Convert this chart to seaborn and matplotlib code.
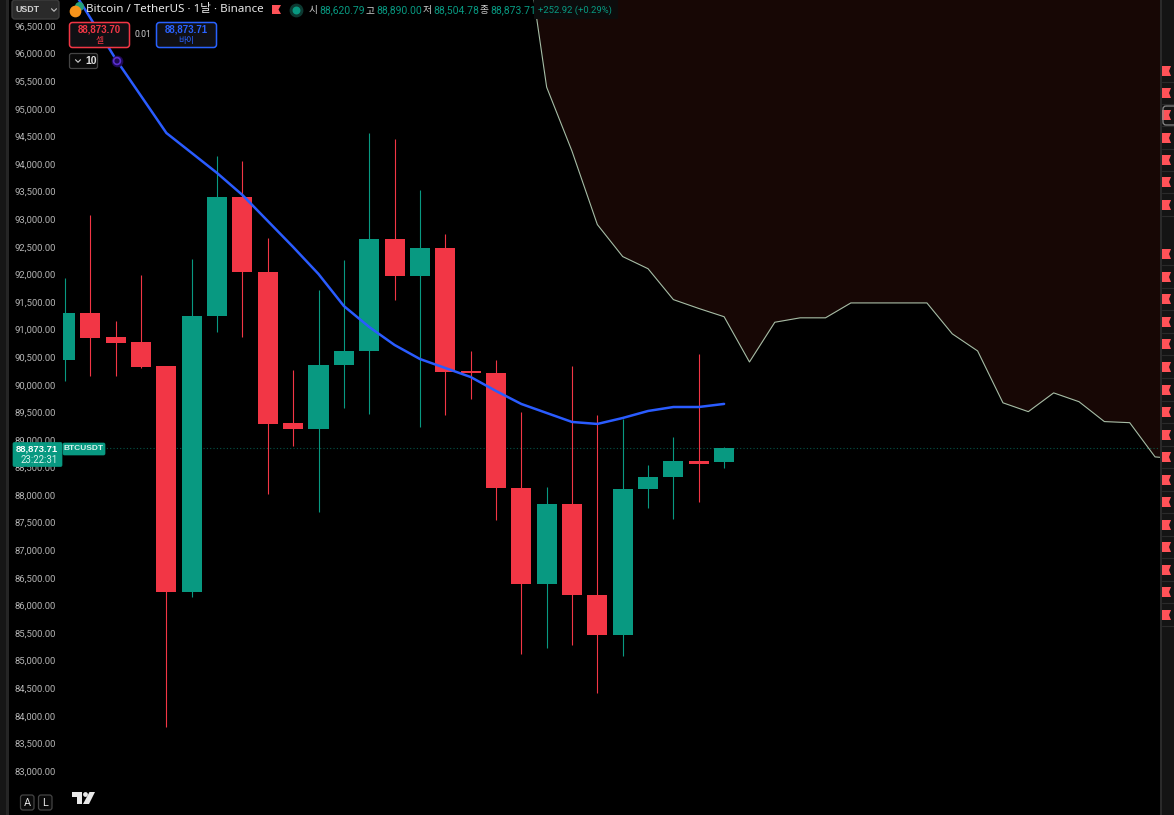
import matplotlib
matplotlib.use("Agg")
import matplotlib.pyplot as plt
from matplotlib.patches import FancyBboxPatch, Rectangle, Polygon, Circle
from matplotlib.transforms import ScaledTranslation
import numpy as np
import pandas as pd
import seaborn as sns

opens = [90466,91318,90883,90792,90357,86262,91263,93420,92061,89324,89216,90375,90629,92659,91988,92495,90268,90230,88147,86407,87857,86208,85483,88129,88346,88636,88620.79]
highs = [91952,93093,91173,92006,90357,92296,94163,94072,92677,90285,91734,92278,94579,94471,93546,92749,90629,90466,89524,88165,90357,89469,89397,88563,89071,90575,88890]
lows = [90085,90176,90176,90320,83816,86172,90973,90883,88038,88908,87712,89596,89488,91553,89252,89469,89759,87567,85139,85247,85302,84432,85103,87784,87585,87893,88504.78]
closes = [91318,90865,90774,90339,86262,91263,93420,92061,89306,89216,90375,90629,92659,91988,92495,90249,90230,88147,86407,87857,86208,85483,88129,88346,88636,88582,88873.71]

ma_index = list(range(0, 27))
ma_values = [97400,96663,95920,95250,94579,94217,93854,93455,92984,92513,92024,91444,91064,90738,90484,90321,90158,89905,89669,89506,89343,89307,89415,89542,89614,89614,89670]

cloud_index = list(range(18, 44))
cloud_values = [98580,95410,94250,92920,92340,92120,91560,91400,91250,90430,91150,91230,91230,91500,91500,91500,91500,90940,90630,89690,89530,89870,89710,89350,89330,88710]
cloud_end = 88700

price_ticks = list(range(83000, 97000, 500))
C_UP, C_DOWN = "#089981", "#f23645"

sns.set_theme(style="dark")
W, H = 1174, 815
plt.rcParams["font.family"] = ["Noto Sans", "Noto Sans CJK KR", "DejaVu Sans"]
fig = plt.figure(figsize=(W/100, H/100), dpi=100, facecolor="black")
L, R = 63, 1161
ax = fig.add_axes([L/W, 0, (R-L)/W, 1], facecolor="black")
STEP = 25.35
ax.set_xlim((L-65)/STEP, (R-65)/STEP)
PPU = 745/13500
ax.set_ylim(96500-(815-27)/PPU, 96500+27/PPU)
for s in ax.spines.values():
    s.set_visible(False)
ax.grid(False)
ax.set_xticks([])
ax.set_yticks(price_ticks)
ax.set_yticklabels([f"{p:,.2f}" for p in price_ticks], fontsize=6.8, color="#b4b4b4", family="Roboto")
ax.tick_params(axis="y", length=0, pad=5)
up1 = ScaledTranslation(0, 1/100, fig.dpi_scale_trans)
for lab in ax.get_yticklabels():
    lab.set_transform(lab.get_transform() + up1)

# cloud
cx = cloud_index + [43.25]
cy = cloud_values + [cloud_end]
ax.fill_between(cx, cy, 99000, color="#170705", lw=0, zorder=1)
df_c = pd.DataFrame({"i": cx, "v": cy})
sns.lineplot(data=df_c, x="i", y="v", ax=ax, color="#a6bda6", lw=0.8, zorder=2, estimator=None, sort=False)

# candles
idx = np.arange(len(opens))
o, h, l, c = map(np.array, (opens, highs, lows, closes))
cols = [C_UP if b >= a else C_DOWN for a, b in zip(o, c)]
ax.vlines(idx, l, h, colors=cols, lw=0.8, zorder=3)
ax.bar(idx, np.maximum(np.abs(c-o), 30), bottom=np.minimum(o, c), width=0.79, color=cols, lw=0, zorder=4)

# moving average
df_m = pd.DataFrame({"i": ma_index, "v": ma_values})
sns.lineplot(data=df_m, x="i", y="v", ax=ax, color="#2a5cff", lw=1.8, zorder=5, estimator=None)
ax.set_xlabel(""); ax.set_ylabel("")
leg = ax.get_legend()
if leg: leg.remove()

# last price line
ax.axhline(closes[-1], color=C_UP, lw=0.8, ls=(0, (1, 2)), alpha=0.55, zorder=2)

# overlay in pixel space for the interface furniture
ov = fig.add_axes([0, 0, 1, 1], facecolor="none")
ov.set_xlim(0, W); ov.set_ylim(H, 0); ov.axis("off")
ov.add_patch(Rectangle((0, 0), 6, H, color="#161616", lw=0))
ov.add_patch(Rectangle((6, 0), 3, H, color="#262626", lw=0))
ov.add_patch(Rectangle((1161, 0), 13, H, color="#141414", lw=0))
ov.add_patch(Rectangle((1160, 0), 2, H, color="#2a2a2a", lw=0))

def flag(x, y, w=9, hh=10, n=2):
    ov.add_patch(Polygon([(x, y), (x+w, y), (x+w-n, y+hh/2), (x+w, y+hh), (x, y+hh)], color="#ff5258", lw=0))

for y in [71, 93, 115, 138, 160, 182, 205, 254, 277, 299, 322, 344, 367, 390, 412, 435, 457, 480, 502, 525, 547, 570, 592, 615]:
    flag(1162, y-5)
    ov.plot([1162, 1174], [y+11, y+11], color="#2a2a2a", lw=0.8)
ov.add_patch(FancyBboxPatch((1163, 106), 14, 19, boxstyle="round,pad=0,rounding_size=3", fc="none", ec="#8a8a8a", lw=0.9))

def box(x, y, w, hh, fc, ec, lw=1.0, r=3):
    ov.add_patch(FancyBboxPatch((x, y), w, hh, boxstyle=f"round,pad=0,rounding_size={r}", fc=fc, ec=ec, lw=lw))

def T(x, y, s, color="#d8d8d8", size=8, ha="left", weight="normal", family=None):
    ov.text(x, y, s, color=color, fontsize=size, ha=ha, va="center", fontweight=weight,
            family=family or ["Noto Sans", "Noto Sans CJK KR", "DejaVu Sans"])

def chevron(x, y, color="#c0c0c0", s=2.5):
    ov.plot([x-s, x, x+s], [y-s/2, y+s/2, y-s/2], color=color, lw=0.8)

# top left: currency selector
box(12, 0, 47, 19, "#2a2a2a", "#3c3c3c")
T(15, 10, "USDT", "#d0d0d0", 6.4, family="Liberation Sans", weight="bold")
chevron(54, 10)

# title row
ov.scatter([79], [6], s=30, color="#26a17b", zorder=5)
ov.scatter([75], [11], s=55, color="#f7931a", zorder=5)
T(86, 9.5, "Bitcoin / TetherUS · 1날 · Binance", "#e8e8e8", 8.35)
flag(272, 5, 9, 9, 2.5)
ov.scatter([296], [10], s=80, color="#0d3a32", zorder=5)
ov.scatter([296], [10], s=22, color="#089981", zorder=6)
xs = [(309, "시", "88,620.79"), (366, "고", "88,890.00"), (423, "저", "88,504.78"), (480, "종", "88,873.71")]
ov.add_patch(Rectangle((534, 0), 84, 19, color="#0c0c0c", lw=0, zorder=1))
for x, k, v in xs:
    T(x, 10, k, "#d0d0d0", 7.0, family=["Noto Sans CJK KR"])
    T(x+10, 10, v, "#089981", 7.5, family="Roboto")
T(538, 10.5, "+252.92 (+0.29%)", "#089981", 6.8, family="Roboto")

# order buttons
box(69.5, 22.5, 60, 25, "#101014", "#f23645", 1.1)
T(99.5, 30, "88,873.70", "#f23645", 7.0, ha="center", weight="bold", family="Liberation Sans")
T(99.5, 40, "셀", "#f23645", 6.3, ha="center", family=["Noto Sans CJK KR"])
T(143, 34.5, "0.01", "#d0d0d0", 6.2, ha="center", family="Roboto")
box(156.5, 22.5, 60, 25, "#101014", "#2962ff", 1.1)
T(186.5, 30, "88,873.71", "#2962ff", 7.0, ha="center", weight="bold", family="Liberation Sans")
T(186.5, 40, "바이", "#2962ff", 6.3, ha="center", family=["Noto Sans CJK KR"])
box(69.5, 53.5, 28, 15, "#0a0a0a", "#444444", 0.9, 2)
chevron(78, 61, "#d0d0d0")
T(85, 61, "10", "#e0e0e0", 7.5, family="Liberation Sans", weight="bold")
ov.scatter([117], [61], s=70, color="#1f0a55", lw=0, zorder=5)
ov.scatter([117], [61], s=24, facecolors="none", edgecolors="#5a2fd0", lw=1.2, zorder=6)

# last price labels
box(13, 442.5, 49, 24, C_UP, C_UP, 0.5, 1.5)
T(37, 449, "88,873.71", "#ffffff", 6.8, ha="center", weight="bold", family="Liberation Sans")
T(39, 460, "23:22:31", "#d6f2ec", 6.9, ha="center", family="Roboto")
box(63, 443, 42, 12, C_UP, C_UP, 0.5, 1.5)
T(84, 449, "BTCUSDT", "#d6f2ec", 6.0, ha="center", family="Liberation Sans", weight="bold")

# bottom-left buttons and logo
for x, s in [(20.5, "A"), (38.5, "L")]:
    box(x, 795, 13.5, 15, "#0a0a0a", "#444444", 0.9, 2.5)
    T(x+6.7, 802.5, s, "#e8e8e8", 7.8, ha="center", family="Roboto")
ov.add_patch(Polygon([(72, 792), (82, 792), (82, 804), (77, 804), (77, 797), (72, 797)], color="#e8e8e8", lw=0))
ov.add_patch(Circle((85.5, 794.5), 2.4, color="#e8e8e8", lw=0))
ov.add_patch(Polygon([(89.5, 792), (95, 792), (89, 804), (83, 804)], color="#e8e8e8", lw=0))

fig.savefig("out.png", dpi=100, facecolor="black")
